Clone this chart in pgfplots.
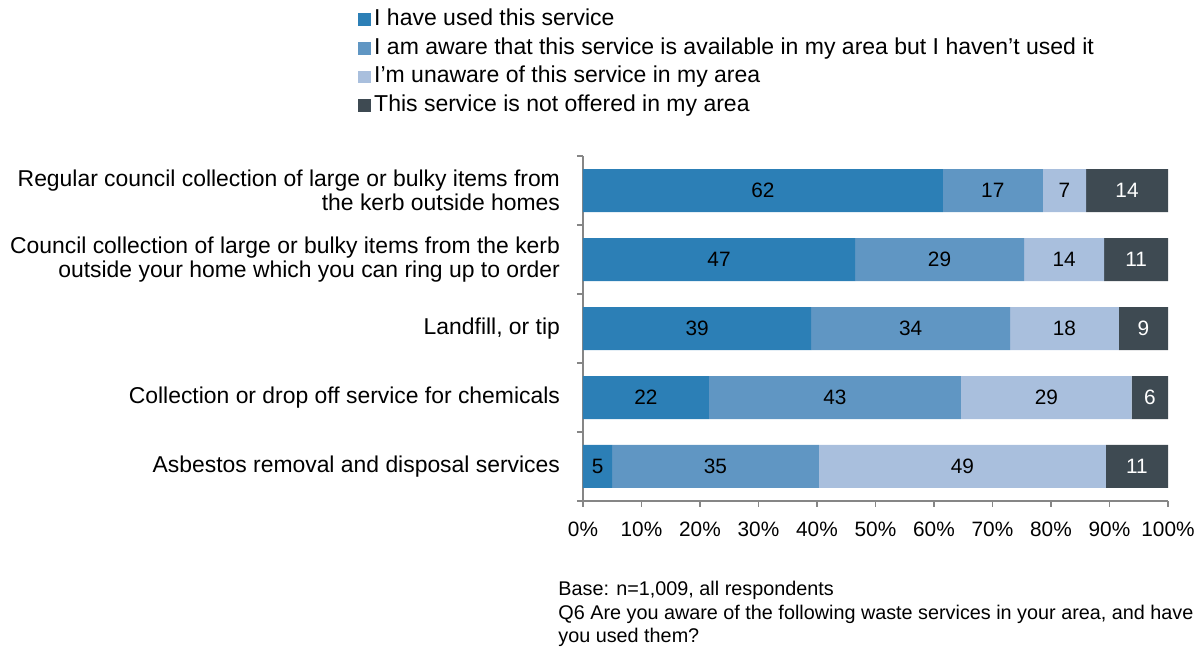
\documentclass[border=0pt]{standalone}
\usepackage{fontspec}
\setmainfont{Liberation Sans}
\usepackage{pgfplots}
\usepackage{pgfplotstable}
\pgfplotsset{compat=1.18}
\definecolor{c1}{RGB}{44,127,182}
\definecolor{c2}{RGB}{96,150,195}
\definecolor{c3}{RGB}{169,191,221}
\definecolor{c4}{RGB}{62,74,82}
\definecolor{axgray}{RGB}{134,134,134}

\pgfplotstableread{
y a b c d la lb lc ld
0 61.5 17.1 7.4 14.0 62 17 7 14
1 46.5 28.9 13.7 10.9 47 29 14 11
2 39.0 34.0 18.6 8.4 39 34 18 9
3 21.5 43.1 29.2 6.2 22 43 29 6
4 5.0 35.3 49.1 10.6 5 35 49 11
}\datatable

\begin{document}
\begin{tikzpicture}
\begin{axis}[
  at={(0,0)}, anchor=south west,
  scale only axis, width=292.5pt, height=172.5pt,
  xbar stacked, bar width=21.5pt,
  xmin=0, xmax=100, ymin=-0.5, ymax=4.5, y dir=reverse,
  axis x line*=bottom, axis y line*=left,
  axis line style={axgray, line width=0.6pt, -},
  tick style={axgray, line width=0.6pt},
  major tick length=3pt, tick align=outside,
  xtick={0,10,...,100},
  xticklabels={0\%,10\%,20\%,30\%,40\%,50\%,60\%,70\%,80\%,90\%,100\%},
  xticklabel style={font=\fontsize{10.4}{12}\selectfont, yshift=-4pt},
  ytick={-0.5,0.5,1.5,2.5,3.5,4.5}, yticklabels={},
  extra y ticks={0,1,2,3,4},
  extra y tick labels={{Regular council collection of large or bulky items from\\the kerb outside homes},
    {Council collection of large or bulky items from the kerb\\outside your home which you can ring up to order},
    {Landfill, or tip},
    {Collection or drop off service for chemicals},
    {Asbestos removal and disposal services}},
  extra y tick style={major tick length=0pt},
  yticklabel style={align=right, font=\fontsize{11.45}{12}\selectfont, xshift=-8pt},
  legend style={at={(-0.3846,1.4377)}, anchor=north west, draw=none, fill=none,
    inner sep=0pt, row sep=0pt, font=\fontsize{11.5}{12}\selectfont,
    cells={anchor=west}, nodes={inner xsep=1.5pt, inner ysep=1.6pt, text height=8.5pt, text depth=2.6pt}},
  legend cell align=left,
  legend image code/.code={\fill[#1] (0pt,-3.2pt) rectangle (6.4pt,3.2pt);},
  nodes near coords style={font=\fontsize{10.4}{12}\selectfont, anchor=center},
]
\addplot[fill=c1, draw=none, nodes near coords, point meta=explicit symbolic,
  every node near coord/.append style={text=black}]
  table[x=a, y=y, meta=la]{\datatable};
\addplot[fill=c2, draw=none, nodes near coords, point meta=explicit symbolic,
  every node near coord/.append style={text=black}]
  table[x=b, y=y, meta=lb]{\datatable};
\addplot[fill=c3, draw=none, nodes near coords, point meta=explicit symbolic,
  every node near coord/.append style={text=black}]
  table[x=c, y=y, meta=lc]{\datatable};
\addplot[fill=c4, draw=none, nodes near coords, point meta=explicit symbolic,
  every node near coord/.append style={text=white}]
  table[x=d, y=y, meta=ld]{\datatable};
\legend{I have used this service,
  I am aware that this service is available in my area but I haven’t used it,
  I’m unaware of this service in my area,
  This service is not offered in my area}
\end{axis}
\node[anchor=north west, align=left, font=\fontsize{9.9}{11.75}\selectfont, inner sep=0pt]
  at (-12.5pt,-40pt) {Base: n=1,009, all respondents\\Q6 Are you aware of the following waste services in your area, and have\\you used them?};
\path (-291.5pt,-75pt) rectangle (310.5pt,250.5pt);
\end{tikzpicture}
\end{document}
